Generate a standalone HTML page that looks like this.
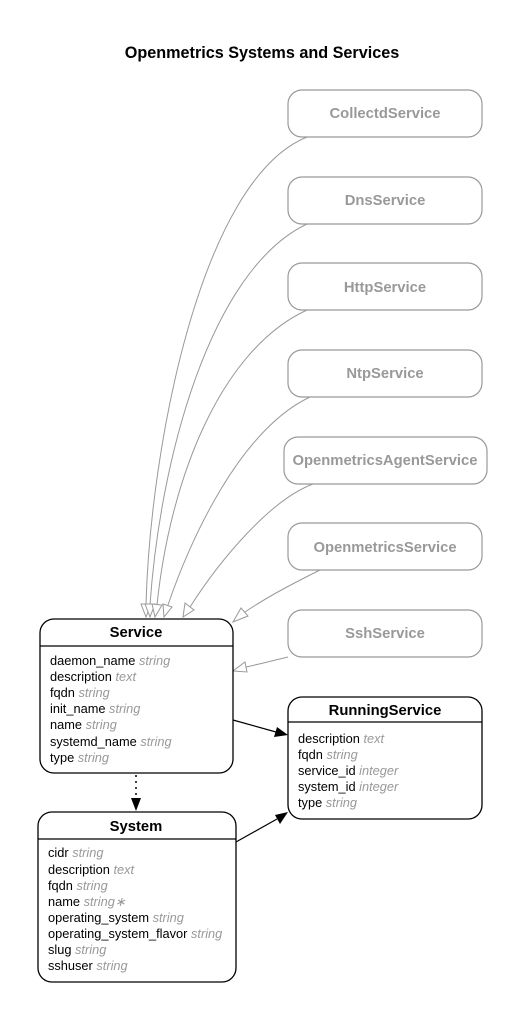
<!DOCTYPE html>
<html><head><style>
body{margin:0;background:#fff}
svg{display:block}
text{font-family:"Liberation Sans",sans-serif}
.g{fill:#fff;stroke:#999;stroke-width:1.2}
.gt{fill:#999;font-weight:bold;font-size:14.8px;text-anchor:middle}
.b{fill:#fff;stroke:#000;stroke-width:1.3}
.bt{font-weight:bold;font-size:14.8px;text-anchor:middle}
.r{font-size:12.8px}
.r tspan{fill:#999;font-style:italic}
.e{fill:none;stroke:#999;stroke-width:1}
.ah{fill:#fff;stroke:#999;stroke-width:1}
</style></head><body>
<svg width="525" height="1021" viewBox="0 0 525 1021">
<text x="262" y="58" font-size="16.2" font-weight="bold" text-anchor="middle">Openmetrics Systems and Services</text>

<rect class="g" x="288" y="90" width="194" height="47" rx="14"/><text class="gt" x="385" y="118">CollectdService</text>
<rect class="g" x="288" y="177" width="194" height="47" rx="14"/><text class="gt" x="385" y="205">DnsService</text>
<rect class="g" x="288" y="263" width="194" height="47" rx="14"/><text class="gt" x="385" y="292">HttpService</text>
<rect class="g" x="288" y="350" width="194" height="47" rx="14"/><text class="gt" x="385" y="378">NtpService</text>
<rect class="g" x="284" y="437" width="203" height="47" rx="14"/><text class="gt" x="385" y="465">OpenmetricsAgentService</text>
<rect class="g" x="288" y="523" width="194" height="47" rx="14"/><text class="gt" x="385" y="552">OpenmetricsService</text>
<rect class="g" x="288" y="610" width="194" height="47" rx="14"/><text class="gt" x="385" y="638">SshService</text>

<path class="e" d="M307,137 C200,180 150,450 146,605"/>
<path class="e" d="M307,224 C210,270 160,460 150,605"/>
<path class="e" d="M307,310 C220,350 170,480 157,605"/>
<path class="e" d="M310,397 C240,430 190,540 168,605"/>
<path class="e" d="M313,484 C270,500 220,560 190,607"/>
<path class="e" d="M320,570 C300,580 270,595 245,612"/>
<path class="e" d="M288,657 C275,660 260,664 246,667"/>
<polygon class="ah" points="141,604 151,604 146,617"/>
<polygon class="ah" points="145,604 155,604 150,617"/>
<polygon class="ah" points="152,604 162,605 155,617"/>
<polygon class="ah" points="163,604 172,607 164,617"/>
<polygon class="ah" points="185,603 194,610 183,617"/>
<polygon class="ah" points="241,608 248,616 233,622"/>
<polygon class="ah" points="245,662 247,672 233,671"/>

<rect class="b" x="40" y="619" width="193" height="154" rx="14"/>
<line x1="40" y1="646" x2="233" y2="646" stroke="#000" stroke-width="1.3"/>
<text class="bt" x="136" y="637">Service</text>
<text class="r" x="50" y="665">daemon_name <tspan>string</tspan></text>
<text class="r" x="50" y="681">description <tspan>text</tspan></text>
<text class="r" x="50" y="697">fqdn <tspan>string</tspan></text>
<text class="r" x="50" y="713">init_name <tspan>string</tspan></text>
<text class="r" x="50" y="729">name <tspan>string</tspan></text>
<text class="r" x="50" y="746">systemd_name <tspan>string</tspan></text>
<text class="r" x="50" y="762">type <tspan>string</tspan></text>

<rect class="b" x="288" y="697" width="194" height="122" rx="14"/>
<line x1="288" y1="722" x2="482" y2="722" stroke="#000" stroke-width="1.3"/>
<text class="bt" x="385" y="715">RunningService</text>
<text class="r" x="298" y="743">description <tspan>text</tspan></text>
<text class="r" x="298" y="759">fqdn <tspan>string</tspan></text>
<text class="r" x="298" y="775">service_id <tspan>integer</tspan></text>
<text class="r" x="298" y="791">system_id <tspan>integer</tspan></text>
<text class="r" x="298" y="807">type <tspan>string</tspan></text>

<rect class="b" x="38" y="812" width="198" height="170" rx="14"/>
<line x1="38" y1="839" x2="236" y2="839" stroke="#000" stroke-width="1.3"/>
<text class="bt" x="136" y="831">System</text>
<text class="r" x="48" y="857">cidr <tspan>string</tspan></text>
<text class="r" x="48" y="874">description <tspan>text</tspan></text>
<text class="r" x="48" y="890">fqdn <tspan>string</tspan></text>
<text class="r" x="48" y="906">name <tspan>string∗</tspan></text>
<text class="r" x="48" y="922">operating_system <tspan>string</tspan></text>
<text class="r" x="48" y="938">operating_system_flavor <tspan>string</tspan></text>
<text class="r" x="48" y="954">slug <tspan>string</tspan></text>
<text class="r" x="48" y="970">sshuser <tspan>string</tspan></text>

<line x1="233" y1="720" x2="276" y2="732" stroke="#000" stroke-width="1.2"/>
<polygon points="288,735 274,737 277,727" fill="#000"/>
<line x1="236" y1="842" x2="277" y2="819" stroke="#000" stroke-width="1.2"/>
<polygon points="288,812 280,824 275,815" fill="#000"/>
<line x1="136" y1="775" x2="136" y2="799" stroke="#000" stroke-width="1.5" stroke-dasharray="2,4"/>
<polygon points="131,798 141,798 136,811" fill="#000"/>
</svg>
</body></html>
